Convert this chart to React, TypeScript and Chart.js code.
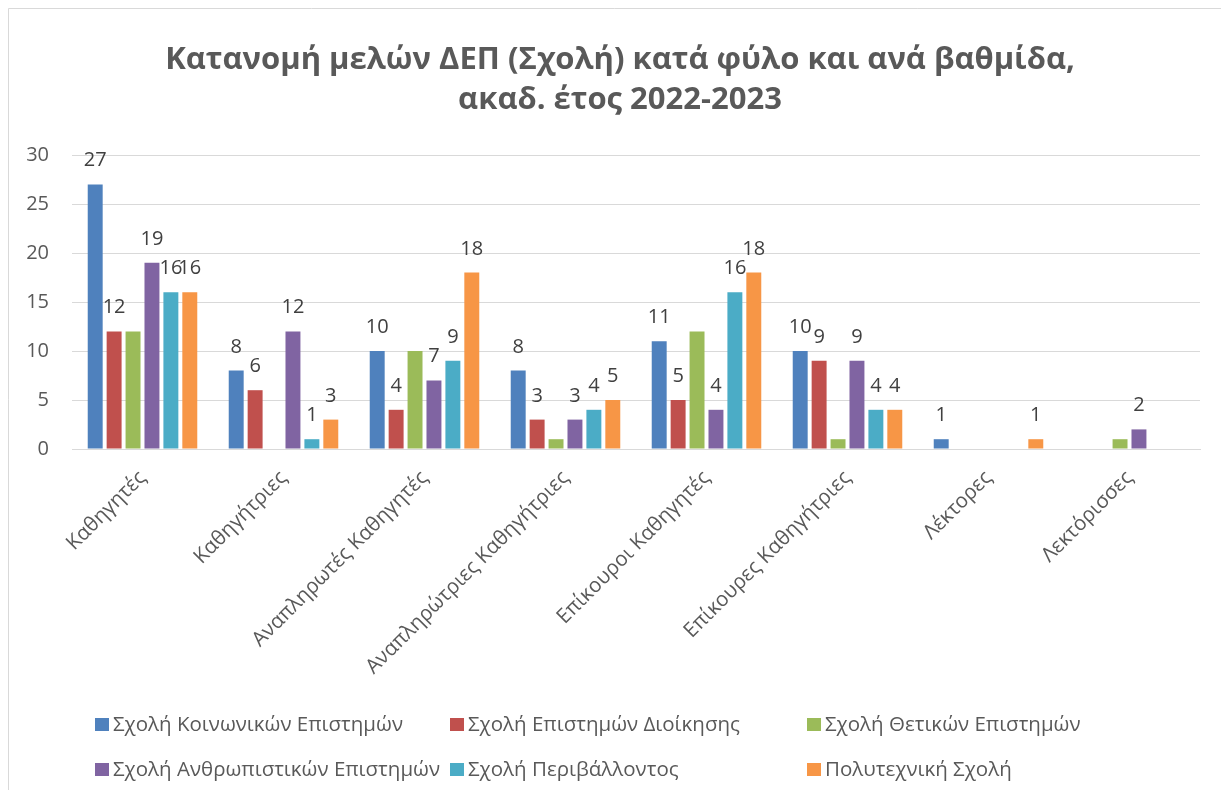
import React, { useEffect, useRef } from "react";
import { Chart, registerables } from "chart.js";

Chart.register(...registerables);

const categories = [
  "Καθηγητές",
  "Καθηγήτριες",
  "Αναπληρωτές Καθηγητές",
  "Αναπληρώτριες Καθηγήτριες",
  "Επίκουροι Καθηγητές",
  "Επίκουρες Καθηγήτριες",
  "Λέκτορες",
  "Λεκτόρισσες",
];

const seriesNames = [
  "Σχολή Κοινωνικών Επιστημών",
  "Σχολή Επιστημών Διοίκησης",
  "Σχολή Θετικών Επιστημών",
  "Σχολή Ανθρωπιστικών Επιστημών",
  "Σχολή Περιβάλλοντος",
  "Πολυτεχνική Σχολή",
];

const socialSciences = [27, 8, 10, 8, 11, 10, 1, 0];
const management = [12, 6, 4, 3, 5, 9, 0, 0];
const exactSciences = [12, 0, 10, 1, 12, 1, 0, 1];
const humanities = [19, 12, 7, 3, 4, 9, 0, 2];
const environment = [16, 1, 9, 4, 16, 4, 0, 0];
const polytechnic = [16, 3, 18, 5, 18, 4, 1, 0];

const seriesValues = [socialSciences, management, exactSciences, humanities, environment, polytechnic];
const seriesColors = ["#4F81BD", "#C0504D", "#9BBB59", "#8064A2", "#4BACC6", "#F79646"];
const labelledSeries = [true, true, false, true, true, true];

const yTicks = [0, 5, 10, 15, 20, 25, 30];

const titleLines = ["Κατανομή μελών ΔΕΠ (Σχολή) κατά φύλο και ανά βαθμίδα,", "ακαδ. έτος 2022-2023"];

const FONT = "'Open Sans', 'Noto Sans', sans-serif";

const W = 1213;
const H = 782;

const decorPlugin = {
  id: "decor",
  beforeDraw(chart: any) {
    const ctx = chart.ctx;
    ctx.save();
    ctx.fillStyle = "#ffffff";
    ctx.fillRect(0, 0, chart.width, chart.height);
    ctx.strokeStyle = "#d9d9d9";
    ctx.lineWidth = 1;
    ctx.beginPath();
    ctx.moveTo(0.5, chart.height);
    ctx.lineTo(0.5, 0.5);
    ctx.lineTo(chart.width, 0.5);
    ctx.stroke();
    // title
    ctx.font = `bold 31px ${FONT}`;
    ctx.fillStyle = "#595959";
    ctx.textAlign = "center";
    ctx.textBaseline = "middle";
    titleLines.forEach((line, i) => {
      ctx.fillText(line, 612, 52 + i * 40);
    });
    ctx.restore();
  },
  afterDatasetsDraw(chart: any) {
    const ctx = chart.ctx;
    ctx.save();
    ctx.font = `20px ${FONT}`;
    ctx.fillStyle = "#404040";
    ctx.textAlign = "center";
    ctx.textBaseline = "alphabetic";
    chart.data.datasets.forEach((ds: any, di: number) => {
      if (!labelledSeries[di]) return;
      const meta = chart.getDatasetMeta(di);
      meta.data.forEach((bar: any, i: number) => {
        const v = ds.data[i];
        if (!v) return;
        ctx.fillText(String(v), bar.x, bar.y - 18);
      });
    });
    ctx.restore();
  },
  afterDraw(chart: any) {
    const ctx = chart.ctx;
    const colX = [87, 442, 799];
    const rowY = [717, 762];
    ctx.save();
    ctx.font = `20.5px ${FONT}`;
    ctx.textBaseline = "middle";
    ctx.textAlign = "left";
    chart.data.datasets.forEach((ds: any, di: number) => {
      const x = colX[di % 3];
      const y = rowY[Math.floor(di / 3)];
      ctx.fillStyle = ds.backgroundColor;
      ctx.fillRect(x, y - 7, 14, 13);
      ctx.fillStyle = "#595959";
      ctx.fillText(ds.label, x + 18, y);
    });
    ctx.restore();
  },
};

export default function App() {
  const ref = useRef<HTMLCanvasElement | null>(null);

  useEffect(() => {
    if (!ref.current) return;
    const chart = new Chart(ref.current, {
      type: "bar",
      data: {
        labels: categories,
        datasets: seriesNames.map((name, i) => ({
          label: name,
          data: seriesValues[i],
          backgroundColor: seriesColors[i],
          borderWidth: 0,
          categoryPercentage: 0.805,
          barPercentage: 0.79,
        })),
      },
      options: {
        animation: false,
        responsive: false,
        maintainAspectRatio: false,
        layout: { padding: { left: 0, right: 21, top: 147, bottom: 0 } },
        plugins: {
          legend: { display: false },
          tooltip: { enabled: false },
          title: { display: false },
        },
        scales: {
          x: {
            grid: { display: false },
            border: { display: true, color: "#d9d9d9", width: 1 },
            ticks: {
              color: "#595959",
              font: { family: FONT, size: 20.5 },
              maxRotation: 45,
              minRotation: 45,
              padding: 9,
              autoSkip: false,
            },
            afterFit(scale: any) {
              scale.height = 341;
            },
          },
          y: {
            min: 0,
            max: 30,
            afterBuildTicks(scale: any) {
              scale.ticks = yTicks.map((v) => ({ value: v }));
            },
            grid: { color: "#d9d9d9", lineWidth: 1, drawTicks: false },
            border: { display: false },
            ticks: {
              color: "#595959",
              font: { family: FONT, size: 20 },
              padding: 23,
            },
            afterFit(scale: any) {
              scale.width = 64;
            },
          },
        },
      },
      plugins: [decorPlugin],
    });
    return () => chart.destroy();
  }, []);

  return (
    <div style={{ width: W, height: H }}>
      <canvas ref={ref} width={W} height={H} style={{ display: "block", width: W, height: H }} />
    </div>
  );
}
